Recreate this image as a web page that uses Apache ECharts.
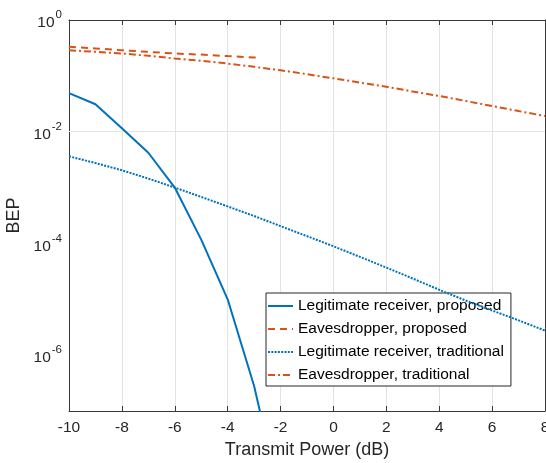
<!DOCTYPE html>
<html>
<head>
<meta charset="utf-8">
<script src="https://cdn.jsdelivr.net/npm/echarts@6/dist/echarts.min.js"></script>
<style>
html,body{margin:0;padding:0;background:#fff;}
#chart{width:546px;height:463px;}
</style>
</head>
<body>
<div id="chart"></div>
<script>
// ---- data ----
const xValues = [-10, -9, -8, -7, -6, -5, -4, -3, -2, -1, 0, 1, 2, 3, 4, 5, 6, 7, 8];

// Legitimate receiver, proposed (x = -10 .. -2)
const legitProposedX = [-10, -9, -8, -7, -6, -5, -4, -3, -2];
const legitProposed = [4.9e-2, 3.1e-2, 1.15e-2, 4.2e-3, 1.0e-3, 1.17e-4, 1.0e-5, 2.8e-7, 2.5e-9];

// Eavesdropper, proposed (x = -10 .. -2.8)
const eavesProposedX = [-10, -9, -8, -7, -6, -5, -4, -3, -2.8];
const eavesProposed = [0.331, 0.309, 0.288, 0.269, 0.251, 0.240, 0.226, 0.214, 0.211];

// Legitimate receiver, traditional
const legitTraditional = [3.63e-3, 2.75e-3, 2.04e-3, 1.45e-3, 1.0e-3, 6.8e-4, 4.6e-4, 3.1e-4, 2.04e-4, 1.35e-4,
  8.9e-5, 5.75e-5, 3.7e-5, 2.35e-5, 1.48e-5, 9.5e-6, 6.3e-6, 4.2e-6, 2.75e-6];

// Eavesdropper, traditional
const eavesTraditional = [0.288, 0.269, 0.251, 0.229, 0.204, 0.186, 0.166, 0.145, 0.126, 0.107,
  0.0902, 0.0759, 0.0638, 0.0525, 0.0437, 0.0355, 0.0288, 0.0234, 0.0191];

const seriesNames = [
  'Legitimate receiver, proposed',
  'Eavesdropper, proposed',
  'Legitimate receiver, traditional',
  'Eavesdropper, traditional'
];
const xTicks = [-10, 8, 2];           // min, max, interval
const yGridValues = [1e-2, 1e-4, 1e-6];
const yRange = [1e-7, 1];

// ---- chart ----
const FONT = "'Liberation Sans', Arial, Helvetica, sans-serif";
const BLUE = '#0072BD';
const ORANGE = '#D95319';
const AXIS = '#3a3a3a';
const GRID = '#e3e3e3';

function pairs(xs, ys) { return xs.map((x, i) => [x, ys[i]]); }

const chart = echarts.init(document.getElementById('chart'), null, {renderer: 'canvas'});

const supFormatter = function (v) {
  const e = Math.round(Math.log10(v));
  if (e % 2 !== 0 || e < -6) return '';
  return '{b|10}{s|' + e + '}';
};

const option = {
  backgroundColor: '#fff',
  animation: false,
  grid: {left: 69, right: 1, top: 20, bottom: 52, containLabel: false, outerBoundsMode: 'none'},
  legend: {
    orient: 'vertical',
    left: 266,
    top: 293,
    itemWidth: 25,
    itemHeight: 14,
    itemGap: 7,
    padding: [5, 7, 3, 1],
    backgroundColor: '#fff',
    borderColor: '#262626',
    borderWidth: 1,
    borderRadius: 0,
    itemStyle: {opacity: 0},
    textStyle: {fontFamily: FONT, fontSize: 15.5, color: '#000'},
    data: seriesNames.slice()
  },
  xAxis: [{
    type: 'value',
    min: xTicks[0], max: xTicks[1], interval: xTicks[2],
    name: 'Transmit Power (dB)',
    nameLocation: 'middle',
    nameGap: 30,
    nameTextStyle: {fontFamily: FONT, fontSize: 18, color: '#262626'},
    axisLine: {show: true, onZero: false, lineStyle: {color: AXIS, width: 1}},
    axisTick: {show: true, inside: true, length: 5, lineStyle: {color: AXIS}},
    axisLabel: {fontFamily: FONT, fontSize: 15.5, color: '#262626', margin: 9, hideOverlap: false},
    splitLine: {show: true, lineStyle: {color: GRID, width: 1}}
  }, {
    type: 'value', position: 'top',
    min: xTicks[0], max: xTicks[1], interval: xTicks[2],
    axisLine: {show: true, onZero: false, lineStyle: {color: AXIS, width: 1}},
    axisTick: {show: true, inside: true, length: 5, lineStyle: {color: AXIS}},
    axisLabel: {show: false},
    splitLine: {show: false}
  }],
  yAxis: [{
    type: 'log', logBase: 10,
    min: yRange[0], max: yRange[1],
    name: 'BEP',
    nameLocation: 'middle',
    nameGap: 42,
    nameTextStyle: {fontFamily: FONT, fontSize: 18, color: '#262626'},
    axisLine: {show: true, onZero: false, lineStyle: {color: AXIS, width: 1}},
    axisTick: {show: false},
    axisLabel: {
      margin: 7,
      formatter: supFormatter,
      rich: {
        b: {fontFamily: FONT, fontSize: 15.5, color: '#262626', lineHeight: 22, verticalAlign: 'bottom'},
        s: {fontFamily: FONT, fontSize: 11.5, color: '#262626', lineHeight: 22, verticalAlign: 'top', padding: [0, 0, 0, 1]}
      }
    },
    splitLine: {show: false}
  }, {
    type: 'log', logBase: 10, position: 'right',
    min: yRange[0], max: yRange[1],
    axisLine: {show: true, onZero: false, lineStyle: {color: AXIS, width: 1}},
    axisTick: {show: false},
    axisLabel: {show: false},
    splitLine: {show: false}
  }],
  series: [
    {
      name: 'grid-lines',
      type: 'line',
      data: [],
      z: 1,
      silent: true,
      markLine: {
        silent: true,
        symbol: ['none', 'none'],
        label: {show: false},
        lineStyle: {color: GRID, width: 1, type: 'solid'},
        data: yGridValues.map(v => ({yAxis: v}))
      }
    },
    {
      name: seriesNames[0], type: 'line', z: 5,
      data: pairs(legitProposedX, legitProposed),
      showSymbol: false, symbol: 'none', clip: true,
      lineStyle: {color: BLUE, width: 2, type: 'solid'},
      itemStyle: {color: BLUE}
    },
    {
      name: seriesNames[1], type: 'line', z: 5,
      data: pairs(eavesProposedX, eavesProposed),
      showSymbol: false, symbol: 'none', clip: true,
      lineStyle: {color: ORANGE, width: 2, type: [7, 5]},
      itemStyle: {color: ORANGE}
    },
    {
      name: seriesNames[2], type: 'line', z: 5,
      data: pairs(xValues, legitTraditional),
      showSymbol: false, symbol: 'none', clip: true,
      lineStyle: {color: BLUE, width: 2, type: [2, 1.3]},
      itemStyle: {color: BLUE}
    },
    {
      name: seriesNames[3], type: 'line', z: 5,
      data: pairs(xValues, eavesTraditional),
      showSymbol: false, symbol: 'none', clip: true,
      lineStyle: {color: ORANGE, width: 2, type: [7, 3, 2, 3]},
      itemStyle: {color: ORANGE}
    }
  ]
};
chart.setOption(option);
</script>
</body>
</html>
